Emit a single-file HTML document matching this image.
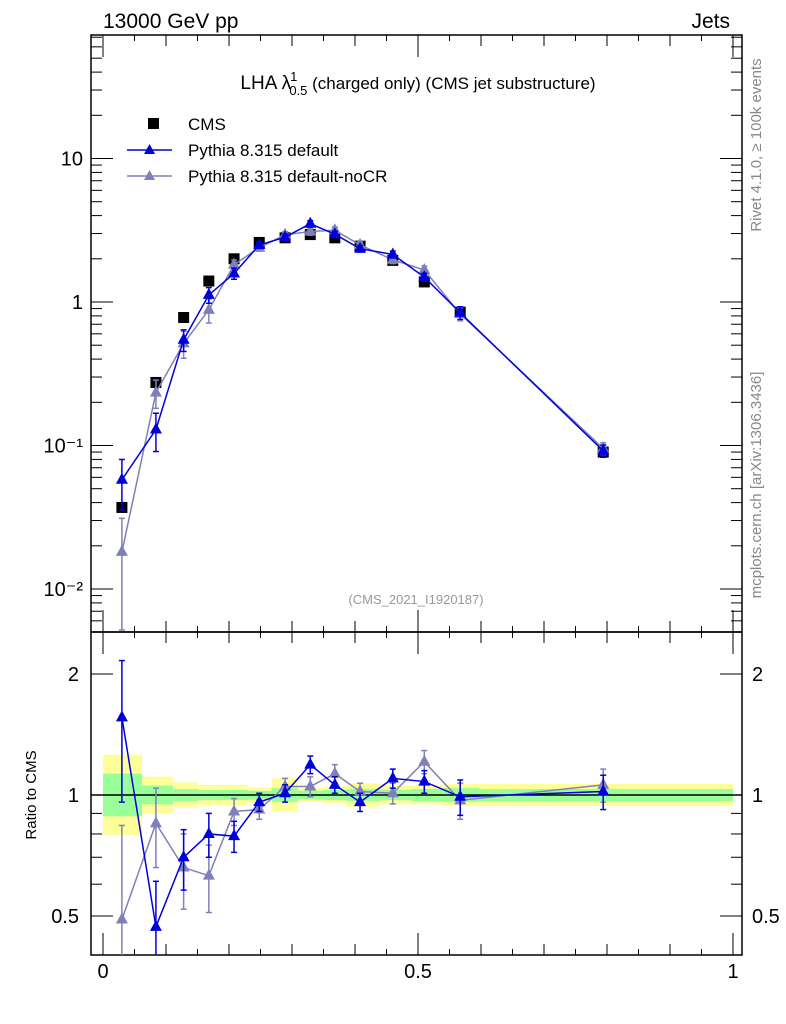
<!DOCTYPE html>
<html><head><meta charset="utf-8"><style>
html,body{margin:0;background:#fff;width:786px;height:1024px;overflow:hidden}
svg{display:block;font-family:"Liberation Sans",sans-serif}
</style></head><body>
<svg id="c" width="786" height="1024" viewBox="0 0 786 1024" xmlns="http://www.w3.org/2000/svg">
<text x="103" y="28" font-size="21">13000 GeV pp</text>
<text x="730" y="28" font-size="21" text-anchor="end">Jets</text>
<text x="418" y="89" font-size="19" text-anchor="middle">LHA λ<tspan font-size="13" dy="-8" dx="-1">1</tspan><tspan font-size="13" dy="14" dx="-8">0.5</tspan><tspan dy="-6" font-size="17"> (charged only) (CMS jet substructure)</tspan></text>
<g>
<rect x="148" y="118" width="11" height="11" fill="#000"/>
<text x="188" y="130" font-size="17">CMS</text>
<line x1="127" y1="150" x2="172" y2="150" stroke="#0000dd" stroke-width="1.5"/>
<polygon points="149.5,144 155,154 144,154" fill="#0000dd"/>
<text x="188" y="156" font-size="17">Pythia 8.315 default</text>
<line x1="127" y1="176" x2="172" y2="176" stroke="#8080b8" stroke-width="1.5"/>
<polygon points="149.5,170 155,180 144,180" fill="#8080b8"/>
<text x="188" y="182" font-size="17">Pythia 8.315 default-noCR</text>
</g>
<text x="416" y="604" font-size="13" fill="#999" text-anchor="middle">(CMS_2021_I1920187)</text>
<text transform="translate(761,145) rotate(-90)" font-size="15" fill="#888" text-anchor="middle">Rivet 4.1.0, ≥ 100k events</text>
<text transform="translate(761,485) rotate(-90)" font-size="15" fill="#888" text-anchor="middle">mcplots.cern.ch [arXiv:1306.3436]</text>
<text transform="translate(36,795) rotate(-90)" font-size="15" text-anchor="middle">Ratio to CMS</text>
<g id="g"></g>
</svg>
<script>
const xCenters=[0.030,0.084,0.128,0.168,0.208,0.248,0.289,0.329,0.368,0.408,0.460,0.510,0.567,0.794];
const binEdges=[0,0.062,0.111,0.151,0.19,0.23,0.268,0.309,0.349,0.387,0.44,0.49,0.54,0.597,1.0];
const cmsValues=[0.037,0.275,0.78,1.4,2.0,2.6,2.8,2.95,2.8,2.45,1.95,1.38,0.85,0.09];
const ratioDefault=[1.56,0.47,0.70,0.80,0.79,0.96,1.01,1.19,1.06,0.96,1.10,1.08,0.99,1.02];
const errDefault=[0.6,0.14,0.12,0.1,0.07,0.05,0.05,0.06,0.05,0.05,0.06,0.07,0.1,0.1];
const ratioNoCR=[0.49,0.85,0.66,0.63,0.91,0.92,1.05,1.05,1.13,1.02,1.01,1.21,0.97,1.06];
const errNoCR=[0.35,0.19,0.14,0.12,0.07,0.05,0.05,0.06,0.06,0.05,0.06,0.08,0.1,0.1];
const bandStat=[0.13,0.055,0.035,0.03,0.03,0.025,0.04,0.025,0.03,0.035,0.03,0.035,0.04,0.035];
const bandTot=[0.26,0.11,0.075,0.06,0.06,0.045,0.1,0.04,0.05,0.07,0.055,0.055,0.065,0.065];
const mainTicks=[[0.01,"10⁻²"],[0.1,"10⁻¹"],[1,"1"],[10,"10"]];
const ratioTicks=[[0.5,"0.5"],[1,"1"],[2,"2"]];
const xTicks=[[0,"0"],[0.5,"0.5"],[1,"1"]];

const L=91,R=742,T=35,M=632,B=955;
const X=v=>103+630*v;
const Y=v=>302-143.5*Math.log10(v);
const YR=v=>795-402*Math.log10(v);
const g=document.getElementById('g');
const NS="http://www.w3.org/2000/svg";
function el(t,a,p){const e=document.createElementNS(NS,t);for(const k in a)e.setAttribute(k,a[k]);(p||g).appendChild(e);return e;}
function band(arr,col,name){arr.forEach((b,i)=>{const r=el('rect',{x:X(binEdges[i]),y:YR(1+b),width:X(binEdges[i+1])-X(binEdges[i]),height:YR(1/(1+b))-YR(1+b),fill:col});

});}
band(bandTot,'#ffff99','ratio-band-total');
band(bandStat,'#99ff99','ratio-band-stat');
el('line',{x1:L,x2:R,y1:795,y2:795,stroke:'#000','stroke-width':1.5});
const f1=el('rect',{x:L,y:T,width:R-L,height:M-T,fill:'none',stroke:'#000','stroke-width':1.5});


const f2=el('rect',{x:L,y:M,width:R-L,height:B-M,fill:'none',stroke:'#000','stroke-width':1.5});


for(let d=-3;d<=1;d++)for(let k=1;k<10;k++){const v=k*Math.pow(10,d);const y=Y(v);if(y<T||y>M)continue;const len=k==1?22:11;
el('line',{x1:L,x2:L+len,y1:y,y2:y,stroke:'#000'});el('line',{x1:R,x2:R-len,y1:y,y2:y,stroke:'#000'});}
mainTicks.forEach(t=>{const e=el('text',{x:L-8,y:Y(t[0])+7,'font-size':20,'text-anchor':'end'});e.textContent=t[1];

});
for(let d=-1;d<=0;d++)for(let k=1;k<10;k++){const v=k*Math.pow(10,d);const y=YR(v);if(y<M||y>B)continue;const len=(v==1||v==0.5||v==2)?22:11;
el('line',{x1:L,x2:L+len,y1:y,y2:y,stroke:'#000'});el('line',{x1:R,x2:R-len,y1:y,y2:y,stroke:'#000'});}
ratioTicks.forEach(t=>{let e=el('text',{x:L-12,y:YR(t[0])+7,'font-size':20,'text-anchor':'end'});e.textContent=t[1];


e=el('text',{x:R+10,y:YR(t[0])+7,'font-size':20});e.textContent=t[1];

});
for(let i=0;i<=20;i++){const v=i/20,x=X(v),len=i%10==0?22:(i%2==0?11:6);
el('line',{x1:x,x2:x,y1:B,y2:B-len,stroke:'#000'});el('line',{x1:x,x2:x,y1:M,y2:M-len,stroke:'#000'});el('line',{x1:x,x2:x,y1:M,y2:M+len,stroke:'#000'});el('line',{x1:x,x2:x,y1:T,y2:T+len,stroke:'#000'});}
xTicks.forEach(t=>{const e=el('text',{x:X(t[0]),y:978,'font-size':20,'text-anchor':'middle'});e.textContent=t[1];

});
const clipM=el('clipPath',{id:'cm'});el('rect',{x:L,y:T,width:R-L,height:M-T},clipM);
const clipR=el('clipPath',{id:'cr'});el('rect',{x:L,y:M,width:R-L,height:B-M},clipR);
function series(vals,errs,col,name,ratio){
 const gg=el('g',{'clip-path':ratio?'url(#cr)':'url(#cm)'});
 
 
 const yf=ratio?YR:Y;
 el('polyline',{points:vals.map((v,i)=>X(xCenters[i])+','+yf(v)).join(' '),fill:'none',stroke:col,'stroke-width':1.5},gg);
 vals.forEach((v,i)=>{const x=X(xCenters[i]);const e=errs[i]*(ratio?1:v);const y1=yf(v+e),y2=yf(Math.max(v-e,1e-4));
  el('line',{x1:x,x2:x,y1:y1,y2:y2,stroke:col,'stroke-width':1.5},gg);
  el('line',{x1:x-3,x2:x+3,y1:y1,y2:y1,stroke:col,'stroke-width':1.5},gg);
  el('line',{x1:x-3,x2:x+3,y1:y2,y2:y2,stroke:col,'stroke-width':1.5},gg);
  const y=yf(v);const p=el('polygon',{points:`${x},${y-7} ${x+6},${y+4} ${x-6},${y+4}`,fill:col},gg);
  
  });
}
cmsValues.forEach((v,i)=>{const r=el('rect',{x:X(xCenters[i])-5.5,y:Y(v)-5.5,width:11,height:11,fill:'#000'});

});
const relD=errDefault.map((e,i)=>e/ratioDefault[i]), relN=errNoCR.map((e,i)=>e/ratioNoCR[i]);
series(cmsValues.map((c,i)=>c*ratioNoCR[i]),relN,'#8080b8','pythia-nocr-main',false);
series(cmsValues.map((c,i)=>c*ratioDefault[i]),relD,'#0000dd','pythia-default-main',false);
series(ratioNoCR,errNoCR,'#8080b8','pythia-nocr-ratio',true);
series(ratioDefault,errDefault,'#0000dd','pythia-default-ratio',true);
</script>
</body></html>
